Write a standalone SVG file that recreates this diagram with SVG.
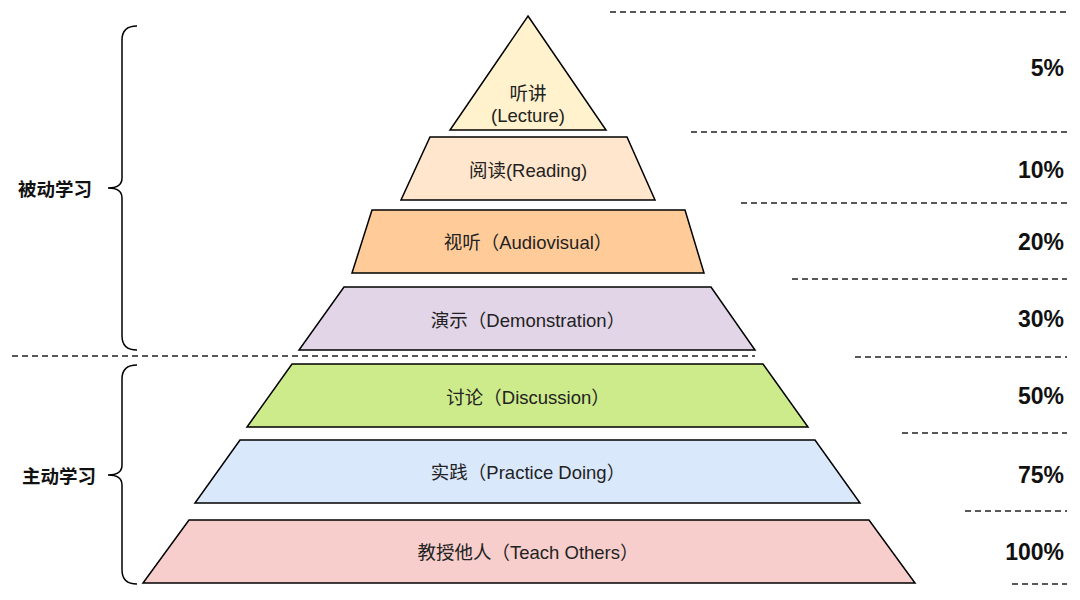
<svg xmlns="http://www.w3.org/2000/svg" width="1080" height="600" viewBox="0 0 1080 600">
<style>
.layer{stroke:#000;stroke-width:1.5;stroke-linejoin:miter}
.lbl{font-family:"Liberation Sans","Noto Sans CJK SC",sans-serif;font-size:18.5px;fill:#222;text-anchor:middle;dominant-baseline:central}
.pct{font-family:"Liberation Sans","Noto Sans CJK SC",sans-serif;font-size:23px;font-weight:bold;fill:#111;text-anchor:end;dominant-baseline:central}
.side{font-family:"Noto Sans CJK SC",sans-serif;font-size:18.5px;font-weight:bold;fill:#111;text-anchor:middle;dominant-baseline:central}
.dash{stroke:#222;stroke-width:1.3;stroke-dasharray:6,4;fill:none}
.brace{stroke:#000;stroke-width:1.5;fill:none}
</style>
<g id="guides">
<line class="dash" x1="610" y1="12" x2="1067" y2="12"/>
<line class="dash" x1="691" y1="132" x2="1067" y2="132"/>
<line class="dash" x1="741" y1="203" x2="1067" y2="203"/>
<line class="dash" x1="792" y1="279" x2="1067" y2="279"/>
<line class="dash" x1="12" y1="356" x2="755" y2="356"/>
<line class="dash" x1="855" y1="357" x2="1067" y2="357"/>
<line class="dash" x1="902" y1="433" x2="1067" y2="433"/>
<line class="dash" x1="965" y1="511" x2="1067" y2="511"/>
<line class="dash" x1="1012" y1="584" x2="1067" y2="584"/>
</g>
<g id="lecture">
<polygon class="layer" fill="#fff2cc" points="528,16 606,130 450,130"/>
<text class="lbl" x="528" y="93">听讲</text>
<text class="lbl" x="528" y="115">(Lecture)</text>
</g>
<g id="reading">
<polygon class="layer" fill="#ffe6cc" points="430,137 627,137 655,200 401,200"/>
<text class="lbl" x="528" y="170">阅读(Reading)</text>
</g>
<g id="audiovisual">
<polygon class="layer" fill="#ffcc99" points="372,210 685,210 704,273 352,273"/>
<text class="lbl" x="528" y="242">视听（Audiovisual）</text>
</g>
<g id="demonstration">
<polygon class="layer" fill="#e1d5e7" points="344,287 711,287 755,350 299,350"/>
<text class="lbl" x="528" y="320">演示（Demonstration）</text>
</g>
<g id="discussion">
<polygon class="layer" fill="#cdeb8b" points="292,364 763,364 808,427 247,427"/>
<text class="lbl" x="528" y="397">讨论（Discussion）</text>
</g>
<g id="practice">
<polygon class="layer" fill="#dae8fc" points="240,440 815,440 860,503 195,503"/>
<text class="lbl" x="528" y="472">实践（Practice Doing）</text>
</g>
<g id="teach">
<polygon class="layer" fill="#f8cecc" points="189,520 869,520 915,583 143,583"/>
<text class="lbl" x="528" y="552">教授他人（Teach Others）</text>
</g>
<g id="percentages">
<text class="pct" x="1064" y="68">5%</text>
<text class="pct" x="1064" y="170">10%</text>
<text class="pct" x="1064" y="242">20%</text>
<text class="pct" x="1064" y="319">30%</text>
<text class="pct" x="1064" y="396">50%</text>
<text class="pct" x="1064" y="475">75%</text>
<text class="pct" x="1064" y="552">100%</text>
</g>
<g id="passive">
<path class="brace" d="M137,26 Q122,26 122,40 L122,178 Q122,188 108,188 Q122,188 122,198 L122,336 Q122,350 137,350"/>
<text class="side" x="55" y="188">被动学习</text>
</g>
<g id="active">
<path class="brace" d="M137,365 Q122,365 122,379 L122,465 Q122,475 108,475 Q122,475 122,485 L122,570 Q122,584 137,584"/>
<text class="side" x="59" y="475">主动学习</text>
</g>
</svg>
